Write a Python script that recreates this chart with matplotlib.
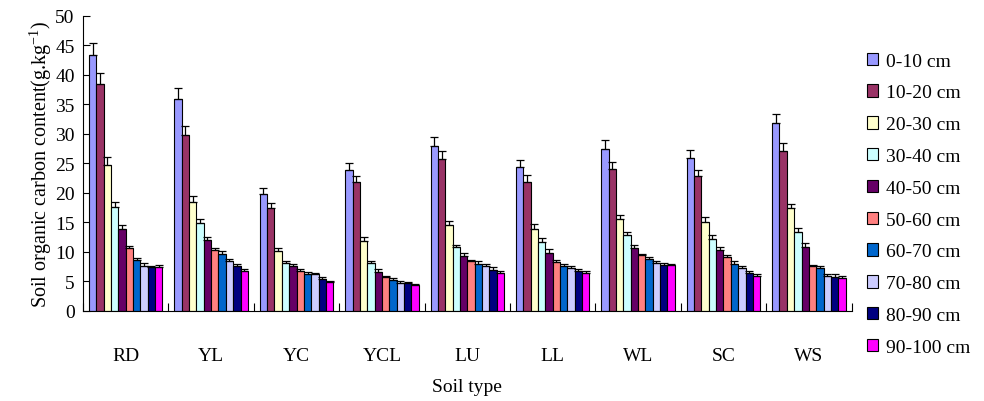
import numpy as np
import matplotlib.pyplot as plt

plt.rcParams['font.family'] = ['Liberation Serif', 'DejaVu Serif']
plt.rcParams['mathtext.fontset'] = 'custom'
plt.rcParams['mathtext.rm'] = 'Liberation Serif'

soils = ['RD', 'YL', 'YC', 'YCL', 'LU', 'LL', 'WL', 'SC', 'WS']
depths = ['0-10 cm', '10-20 cm', '20-30 cm', '30-40 cm', '40-50 cm',
          '50-60 cm', '60-70 cm', '70-80 cm', '80-90 cm', '90-100 cm']
colors = ['#9999FF', '#993366', '#FFFFCC', '#CCFFFF', '#660066',
          '#FF8080', '#0066CC', '#CCCCFF', '#000080', '#FF00FF']

# mean SOC, one row per soil type, columns are depth layers
soc = [
    [43.3, 38.4, 24.7, 17.6, 13.9, 10.7, 8.6, 7.7, 7.5, 7.4],   # RD
    [35.9, 29.8, 18.4, 14.9, 12.0, 10.3, 9.7, 8.4, 7.6, 6.7],   # YL
    [19.9, 17.5, 10.1, 8.1, 7.6, 6.7, 6.2, 6.2, 5.4, 4.9],      # YC
    [23.8, 21.9, 11.8, 8.2, 6.6, 5.8, 5.3, 4.8, 4.7, 4.4],      # YCL
    [28.0, 25.7, 14.5, 10.8, 9.3, 8.4, 8.0, 7.6, 7.0, 6.4],     # LU
    [24.4, 21.9, 13.9, 11.6, 9.9, 8.3, 7.6, 7.2, 6.8, 6.4],     # LL
    [27.5, 24.0, 15.5, 12.8, 10.7, 9.4, 8.8, 8.1, 7.8, 7.8],    # WL
    [26.0, 22.8, 15.1, 12.2, 10.3, 9.1, 8.0, 7.3, 6.4, 6.0],    # SC
    [31.9, 27.1, 17.4, 13.3, 10.9, 7.6, 7.2, 6.0, 5.8, 5.6],    # WS
]
err = [
    [2.1, 2.0, 1.4, 0.8, 0.6, 0.25, 0.3, 0.4, 0.2, 0.4],
    [1.9, 1.5, 1.0, 0.7, 0.6, 0.3, 0.4, 0.4, 0.4, 0.4],
    [1.0, 0.8, 0.6, 0.4, 0.4, 0.4, 0.4, 0.2, 0.3, 0.2],
    [1.2, 1.0, 0.7, 0.3, 0.5, 0.2, 0.2, 0.2, 0.2, 0.2],
    [1.4, 1.4, 0.8, 0.4, 0.6, 0.2, 0.4, 0.4, 0.4, 0.4],
    [1.2, 1.1, 0.8, 0.7, 0.6, 0.4, 0.4, 0.4, 0.3, 0.3],
    [1.4, 1.2, 0.8, 0.6, 0.5, 0.3, 0.4, 0.4, 0.4, 0.2],
    [1.2, 1.1, 0.8, 0.6, 0.5, 0.4, 0.4, 0.4, 0.3, 0.3],
    [1.5, 1.4, 0.8, 0.8, 0.6, 0.2, 0.4, 0.2, 0.4, 0.3],
]

soc = np.array(soc)
err = np.array(err)

fig = plt.figure(figsize=(9.84, 4.02), dpi=100)
ax = fig.add_axes([0.0844, 0.224, 0.781, 0.734])

x = np.arange(len(soils))
n = len(depths)
w = 0.086
for j in range(n):
    pos = x - (n - 1) / 2 * w + j * w
    ax.bar(pos, soc[:, j], w, color=colors[j], edgecolor='black',
           linewidth=0.8, label=depths[j], zorder=2)
    ax.errorbar(pos, soc[:, j], yerr=[np.zeros(len(soils)), err[:, j]],
                fmt='none', ecolor='black', elinewidth=0.9, capsize=3,
                capthick=0.9, zorder=3)

ax.set_xlim(-0.5, len(soils) - 0.5)
ax.set_ylim(0, 50)
ax.set_yticks(np.arange(0, 51, 5))
ax.tick_params(axis='y', direction='in', length=5, labelsize=14, pad=6)

ax.set_xticks(np.arange(-0.5, len(soils) - 0.4, 1))
ax.set_xticklabels([])
ax.set_xticks(x, minor=True)
ax.set_xticklabels(soils, minor=True)
ax.tick_params(axis='x', which='major', direction='in', length=6)
ax.tick_params(axis='x', which='minor', length=0, labelsize=14, pad=26)

ax.spines['top'].set_visible(False)
ax.spines['right'].set_visible(False)

ax.set_xlabel('Soil type', fontsize=14, labelpad=10)
ax.set_ylabel(r'Soil organic carbon content(g.kg$^{-1}$)', fontsize=14.5, labelpad=1)

ax.legend(loc='upper left', bbox_to_anchor=(0.997, 0.935), frameon=False,
          fontsize=14, handlelength=0.6, handleheight=0.6, handletextpad=0.4,
          labelspacing=0.76)

fig.savefig('out.png', dpi=100)
